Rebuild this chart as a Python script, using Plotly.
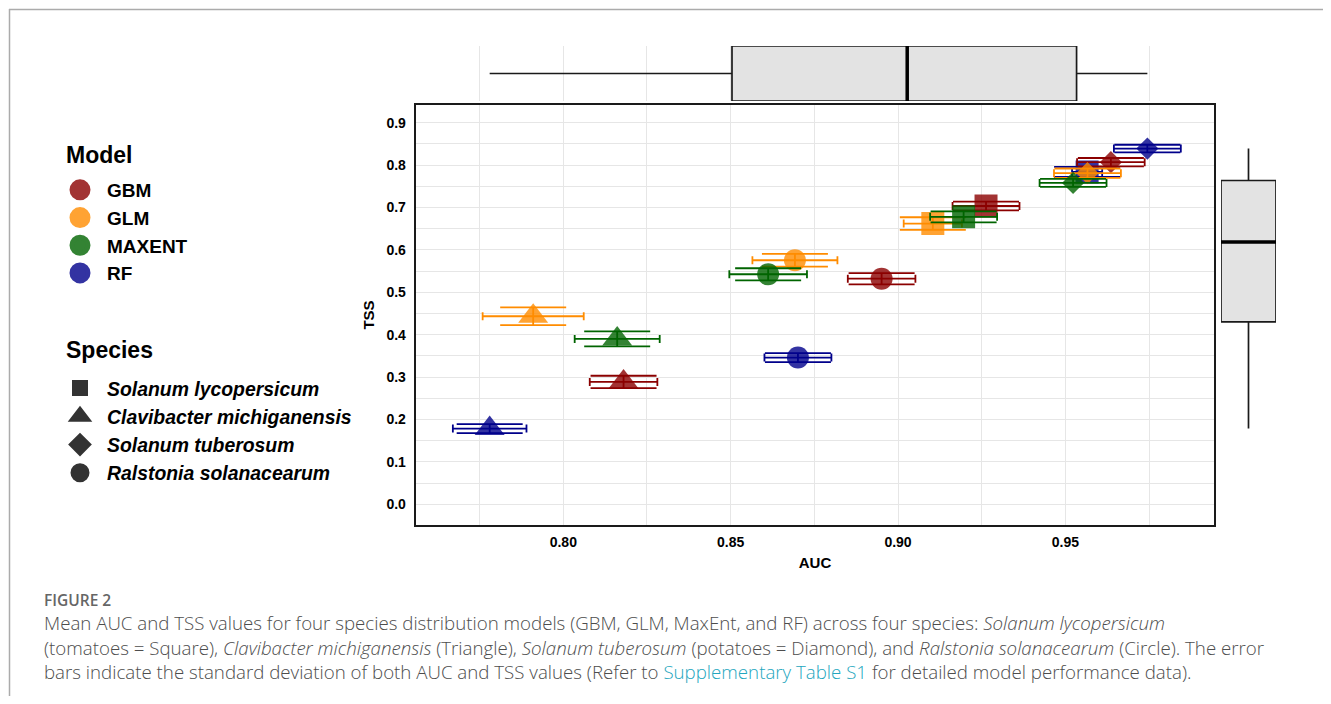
import numpy as np
import plotly.graph_objects as go

# ---------------- data ----------------
models = ["GBM", "GLM", "MAXENT", "RF"]
species = ["Solanum lycopersicum", "Clavibacter michiganensis",
           "Solanum tuberosum", "Ralstonia solanacearum"]

# one entry per point, species-major (drawing order), model order GBM, GLM, MAXENT, RF
point_species = ["Solanum lycopersicum"] * 4 + ["Clavibacter michiganensis"] * 4 + \
                ["Solanum tuberosum"] * 4 + ["Ralstonia solanacearum"] * 4
point_model = models * 4
auc_mean = [0.9263, 0.9104, 0.9196, 0.9565,
            0.8180, 0.7910, 0.8161, 0.7780,
            0.9636, 0.9566, 0.9523, 0.9745,
            0.8951, 0.8692, 0.8612, 0.8701]
auc_sd = [0.0100, 0.0087, 0.0100, 0.0045,
          0.0101, 0.0151, 0.0127, 0.0110,
          0.0101, 0.0100, 0.0100, 0.0100,
          0.0101, 0.0127, 0.0116, 0.0100]
tss_mean = [0.7035, 0.6620, 0.6780, 0.7840,
            0.2885, 0.4434, 0.3900, 0.1785,
            0.8070, 0.7810, 0.7580, 0.8390,
            0.5320, 0.5755, 0.5425, 0.3460]
tss_sd = [0.0102, 0.0150, 0.0130, 0.0120,
          0.0146, 0.0210, 0.0177, 0.0106,
          0.0098, 0.0110, 0.0094, 0.0090,
          0.0134, 0.0150, 0.0142, 0.0106]

x_ticks = [0.80, 0.85, 0.90, 0.95]
y_ticks = [0.0, 0.1, 0.2, 0.3, 0.4, 0.5, 0.6, 0.7, 0.8, 0.9]

# ---------------- styles ----------------
model_color = {"GBM": "#8B0000", "GLM": "#FF8C00", "MAXENT": "#006400", "RF": "#00008B"}
model_legend_color = {"GBM": "#A23333", "GLM": "#FFA333", "MAXENT": "#338333", "RF": "#3333A2"}
species_symbol = {"Solanum lycopersicum": "square", "Clavibacter michiganensis": "triangle-up",
                  "Solanum tuberosum": "diamond", "Ralstonia solanacearum": "circle"}
symbol_size = {"square": 23, "triangle-up": 26, "diamond": 17, "circle": 22}
legend_symbol_size = {"square": 13, "triangle-up": 16, "diamond": 15, "circle": 16}

F = "Liberation Sans, Arial, sans-serif"
CAP_F = "Open Sans, sans-serif"

W, H, OFF = 1315, 688, 8


def px(X):
    return (X - OFF) / W


def py(Y):
    return 1 - (Y - OFF) / H


fig = go.Figure()

# ---------------- points + error bars ----------------
for i in range(len(auc_mean)):
    m, s = point_model[i], point_species[i]
    sym = species_symbol[s]
    fig.add_trace(go.Scatter(
        x=[auc_mean[i]], y=[tss_mean[i]], mode="markers",
        marker=dict(symbol=sym, size=symbol_size[sym], color=model_color[m],
                    opacity=0.8, line=dict(width=0)),
        showlegend=False, hoverinfo="skip", xaxis="x", yaxis="y"))
    fig.add_trace(go.Scatter(
        x=[auc_mean[i]], y=[tss_mean[i]], mode="markers",
        marker=dict(size=2, opacity=0),
        error_x=dict(type="data", array=[auc_sd[i]], color=model_color[m],
                     thickness=1.8, width=4),
        error_y=dict(type="data", array=[tss_sd[i]], color=model_color[m],
                     thickness=1.8, width=33),
        showlegend=False, hoverinfo="skip", xaxis="x", yaxis="y"))

# ---------------- marginal boxplots ----------------
auc_arr = np.array(auc_mean)
tss_arr = np.array(tss_mean)


def box_stats(v):
    q1, med, q3 = np.percentile(v, [25, 50, 75])
    iqr = q3 - q1
    lo = v[v >= q1 - 1.5 * iqr].min()
    hi = v[v <= q3 + 1.5 * iqr].max()
    return q1, med, q3, lo, hi


a_q1, a_med, a_q3, a_lo, a_hi = box_stats(auc_arr)
t_q1, t_med, t_q3, t_lo, t_hi = box_stats(tss_arr)

box_line = dict(color="#1a1a1a", width=1.7)
fig.add_trace(go.Box(
    orientation="h", y=[0], q1=[a_q1], median=[a_med], q3=[a_q3],
    lowerfence=[a_lo], upperfence=[a_hi], width=1, whiskerwidth=0,
    fillcolor="#E3E3E3", line=box_line, showlegend=False, hoverinfo="skip",
    xaxis="x", yaxis="y2"))
fig.add_trace(go.Box(
    orientation="v", x=[0], q1=[t_q1], median=[t_med], q3=[t_q3],
    lowerfence=[t_lo], upperfence=[t_hi], width=1, whiskerwidth=0,
    fillcolor="#E3E3E3", line=box_line, showlegend=False, hoverinfo="skip",
    xaxis="x3", yaxis="y3"))

# ---------------- legend entries ----------------
for m in models:
    fig.add_trace(go.Scatter(
        x=[None], y=[None], mode="markers", name="<b>%s</b>" % m,
        marker=dict(symbol="circle", size=16, color=model_legend_color[m],
                    line=dict(color=model_legend_color[m], width=5)),
        legend="legend", showlegend=True, hoverinfo="skip"))
for s in species:
    sym = species_symbol[s]
    fig.add_trace(go.Scatter(
        x=[None], y=[None], mode="markers", name="<b><i>%s</i></b>" % s,
        marker=dict(symbol=sym, size=legend_symbol_size[sym], color="#333333",
                    line=dict(color="#333333", width=3)),
        legend="legend2", showlegend=True, hoverinfo="skip"))

grid = "#E6E6E6"
y_range = [-0.049, 0.9418]
fig.update_layout(
    width=W, height=H, margin=dict(l=0, r=0, t=0, b=0),
    paper_bgcolor="white", plot_bgcolor="white",
    font=dict(family=F, color="black"),
    xaxis=dict(domain=[px(415.7), px(1214.3)], range=[0.7559, 0.9945],
               tickvals=x_ticks, ticktext=["%.2f" % v for v in x_ticks],
               tickfont=dict(size=14, family=F, color="black", weight="bold"),
               ticklabelstandoff=3,
               showgrid=True, gridcolor=grid, gridwidth=1.3,
               minor=dict(dtick=0.025, tick0=0.8, showgrid=True, gridcolor=grid, gridwidth=1.3),
               showline=True, mirror=True, linecolor="#1a1a1a", linewidth=2,
               zeroline=False, ticks="", anchor="y",
               title=dict(text="<b>AUC</b>", font=dict(size=15, family=F, color="black"), standoff=9)),
    yaxis=dict(domain=[py(525), py(105)], range=y_range,
               tickvals=y_ticks, ticktext=["%.1f" % v for v in y_ticks],
               tickfont=dict(size=14, family=F, color="black", weight="bold"),
               ticklabelstandoff=5,
               showgrid=True, gridcolor=grid, gridwidth=1.3,
               minor=dict(dtick=0.05, tick0=0, showgrid=True, gridcolor=grid, gridwidth=1.3),
               showline=True, mirror=True, linecolor="#1a1a1a", linewidth=2,
               zeroline=False, ticks="", anchor="x",
               title=dict(text="<b>TSS</b>", font=dict(size=15, family=F, color="black"), standoff=8)),
    yaxis2=dict(domain=[py(101), py(46)], range=[-0.5, 0.5], anchor="x", visible=False),
    xaxis3=dict(domain=[px(1221), px(1276)], range=[-0.5, 0.5], anchor="y3", visible=False),
    yaxis3=dict(domain=[py(525), py(105)], range=y_range, anchor="x3", visible=False,
                showgrid=False),
    legend=dict(x=px(53), y=py(171), xanchor="left", yanchor="top",
                font=dict(size=19, family=F, color="black"), itemwidth=44,
                bgcolor="rgba(0,0,0,0)", tracegroupgap=0),
    legend2=dict(x=px(53), y=py(369), xanchor="left", yanchor="top",
                 font=dict(size=19.4, family=F, color="black"), itemwidth=44,
                 bgcolor="rgba(0,0,0,0)", tracegroupgap=0),
)

# legend titles
for txt, Y in [("<b>Model</b>", 155), ("<b>Species</b>", 350)]:
    fig.add_annotation(text=txt, xref="paper", yref="paper", x=px(64), y=py(Y),
                       xanchor="left", yanchor="middle", showarrow=False,
                       font=dict(family=F, size=23, color="black"))

# thick median lines of the marginal boxplots
fig.add_shape(type="line", xref="x", yref="y2", x0=a_med, x1=a_med, y0=-0.5, y1=0.5,
              line=dict(color="black", width=3.5))
fig.add_shape(type="line", xref="x3", yref="y3", x0=-0.5, x1=0.5, y0=t_med, y1=t_med,
              line=dict(color="black", width=3.5))

# page frame
fig.add_shape(type="line", xref="paper", yref="paper", x0=px(9), x1=1, y0=py(9.5), y1=py(9.5),
              line=dict(color="#ABABAB", width=1.5))
fig.add_shape(type="line", xref="paper", yref="paper", x0=px(9.5), x1=px(9.5), y0=py(9), y1=0,
              line=dict(color="#ABABAB", width=1.5))

# caption
cap_color = "#4D4D4D"
link = "#23A6BE"
fig.add_annotation(text="FIGURE 2", xref="paper", yref="paper", x=px(42), y=py(600),
                   xanchor="left", yanchor="middle", showarrow=False,
                   font=dict(family=CAP_F, size=15.5, color="#666666", weight=600))
lines = [
    "Mean AUC and TSS values for four species distribution models (GBM, GLM, MaxEnt, and RF) across four species: <i>Solanum lycopersicum</i>",
    "(tomatoes = Square), <i>Clavibacter michiganensis</i> (Triangle), <i>Solanum tuberosum</i> (potatoes = Diamond), and <i>Ralstonia solanacearum</i> (Circle). The error",
    "bars indicate the standard deviation of both AUC and TSS values (Refer to <span style='color:%s'>Supplementary Table S1</span> for detailed model performance data)." % link,
]
for txt, Y in zip(lines, [622, 647, 671]):
    fig.add_annotation(text=txt, xref="paper", yref="paper", x=px(42), y=py(Y),
                       xanchor="left", yanchor="middle", showarrow=False,
                       font=dict(family=CAP_F, size=18.7, color=cap_color, weight=300))

fig.write_html("out.html")
